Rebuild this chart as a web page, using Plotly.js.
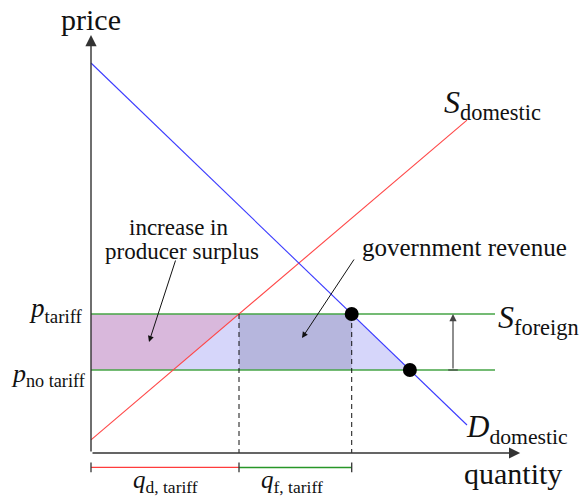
<!DOCTYPE html>
<html><head><meta charset="utf-8">
<script src="https://cdn.plot.ly/plotly-3.0.1.min.js"></script>
<style>html,body{margin:0;padding:0;background:#fff}</style>
</head><body><div id="chart" style="width:587px;height:496px"></div>
<script>
// ---- data (economic units) ----
const demandQ = [0, 9.4];
const demandP = [9.75, 0.7];
const supplyQ = [0, 9.4];
const supplyP = [0.33, 8.32];
const priceTariff = 3.475;
const priceNoTariff = 2.075;
const foreignQ = [0, 10.1];
const axisTipQ = 10.73;
const axisTipP = 10.45;
const tariffArrowQ = 9.05;
const bracketP = -0.36;

// line interpolation helpers (q at a given price)
function qAt(qs, ps, p) { return qs[0] + (p - ps[0]) * (qs[1] - qs[0]) / (ps[1] - ps[0]); }
const qSupplyTariff = qAt(supplyQ, supplyP, priceTariff);
const qSupplyNoTariff = qAt(supplyQ, supplyP, priceNoTariff);
const qDemandTariff = qAt(demandQ, demandP, priceTariff);
const qDemandNoTariff = qAt(demandQ, demandP, priceNoTariff);

const serif = 'Liberation Serif';
const txt = '#111';

const traces = [
  {x:[0,0,qDemandTariff,qDemandNoTariff,0], y:[priceNoTariff,priceTariff,priceTariff,priceNoTariff,priceNoTariff],
   fill:'toself', fillcolor:'rgb(214,214,250)', line:{width:0}, mode:'lines', hoverinfo:'skip'},
  {x:[0,0,qSupplyTariff,qSupplyNoTariff,0], y:[priceNoTariff,priceTariff,priceTariff,priceNoTariff,priceNoTariff],
   fill:'toself', fillcolor:'rgb(217,184,220)', line:{width:0}, mode:'lines', hoverinfo:'skip'},
  {x:[qSupplyTariff,qSupplyTariff,qDemandTariff,qDemandTariff,qSupplyTariff], y:[priceNoTariff,priceTariff,priceTariff,priceNoTariff,priceNoTariff],
   fill:'toself', fillcolor:'rgb(182,182,221)', line:{width:0}, mode:'lines', hoverinfo:'skip'},
  {x:[foreignQ[0],foreignQ[1],null,foreignQ[0],foreignQ[1]], y:[priceTariff,priceTariff,null,priceNoTariff,priceNoTariff],
   mode:'lines', line:{color:'rgb(70,165,70)', width:1.3}, hoverinfo:'skip'},
  {x:supplyQ, y:supplyP, mode:'lines', line:{color:'rgb(255,70,70)', width:1.1}, hoverinfo:'skip'},
  {x:demandQ, y:demandP, mode:'lines', line:{color:'rgb(60,60,255)', width:1.1}, hoverinfo:'skip'},
  {x:[qSupplyTariff,qSupplyTariff,null,qDemandTariff,qDemandTariff], y:[priceTariff,0,null,priceTariff,0],
   mode:'lines', line:{color:'#111', width:1, dash:'5px,4px'}, hoverinfo:'skip'},
  {x:[0,qSupplyTariff], y:[bracketP,bracketP], mode:'lines', line:{color:'rgb(255,60,60)', width:1.3}, hoverinfo:'skip'},
  {x:[qSupplyTariff,qDemandTariff], y:[bracketP,bracketP], mode:'lines', line:{color:'rgb(40,150,40)', width:1.5}, hoverinfo:'skip'},
  {x:[0,0,null,qSupplyTariff,qSupplyTariff,null,qDemandTariff,qDemandTariff],
   y:[bracketP+0.12,bracketP-0.12,null,bracketP+0.12,bracketP-0.12,null,bracketP+0.12,bracketP-0.12],
   mode:'lines', line:{color:'#333', width:1.3}, hoverinfo:'skip'},
  {x:[tariffArrowQ-0.12,tariffArrowQ+0.12], y:[priceNoTariff,priceNoTariff], mode:'lines', line:{color:'#444', width:1.2}, hoverinfo:'skip'},
  {x:[qDemandTariff,qDemandNoTariff], y:[priceTariff,priceNoTariff], mode:'markers',
   marker:{color:'#000', size:14, line:{width:0}}, hoverinfo:'skip'}
];

function arrow(x, y, ax, ay, opt) {
  return Object.assign({x:x, y:y, ax:ax, ay:ay, xref:'x', yref:'y', axref:'x', ayref:'y', text:'',
    showarrow:true, arrowhead:2, arrowsize:1.2, arrowwidth:1, arrowcolor:'#111', standoff:0, startstandoff:0}, opt || {});
}
function label(x, y, text, size, xanchor, opt) {
  return Object.assign({x:x, y:y, xref:'x', yref:'y', text:text, showarrow:false,
    font:{family:serif, size:size, color:txt}, xanchor:xanchor || 'center', yanchor:'middle'}, opt || {});
}

const annotations = [
  arrow(0, axisTipP, 0, 0, {arrowhead:2, arrowsize:1.6, arrowwidth:1.4, arrowcolor:'#333'}),
  arrow(axisTipQ, 0, 0, 0, {arrowhead:2, arrowsize:1.6, arrowwidth:1.4, arrowcolor:'#333'}),
  arrow(tariffArrowQ, priceTariff, tariffArrowQ, priceNoTariff, {arrowcolor:'#444', arrowwidth:1.2}),
  arrow(1.45, 2.775, 2.125, 4.85),
  arrow(5.275, 2.875, 6.6, 4.875),
  label(0, 10.85, 'price', 30),
  label(10.55, -0.5, 'quantity', 30),
  label(8.78, 8.72, '<i>S</i><sub>domestic</sub>', 32, 'left'),
  label(10.13, 3.35, '<i>S</i><sub>foreign</sub>', 32, 'left'),
  label(9.33, 0.6, '<i>D</i><sub>domestic</sub>', 31, 'left'),
  label(-0.15, 3.58, '<i>p</i><sub>tariff</sub>', 27, 'right'),
  label(-0.08, 1.95, '<i>p</i><sub>no tariff</sub>', 26, 'right'),
  label(2.18, 5.65, 'increase in', 23),
  label(2.28, 5.05, 'producer surplus', 23),
  label(6.72, 5.13, 'government revenue', 25, 'left'),
  label(1.85, -0.7, '<i>q</i><sub>d, tariff</sub>', 25),
  label(5.03, -0.7, '<i>q</i><sub>f, tariff</sub>', 25)
];

const layout = {
  width:587, height:496, margin:{l:0, r:0, t:0, b:0},
  paper_bgcolor:'#fff', plot_bgcolor:'#fff', showlegend:false,
  font:{family:serif, color:txt},
  xaxis:{range:[-91/40, 496/40], visible:false, fixedrange:true},
  yaxis:{range:[-43/40, 453/40], visible:false, fixedrange:true},
  annotations:annotations
};
Plotly.newPlot('chart', traces, layout, {staticPlot:true, displayModeBar:false});
</script>
</body></html>
